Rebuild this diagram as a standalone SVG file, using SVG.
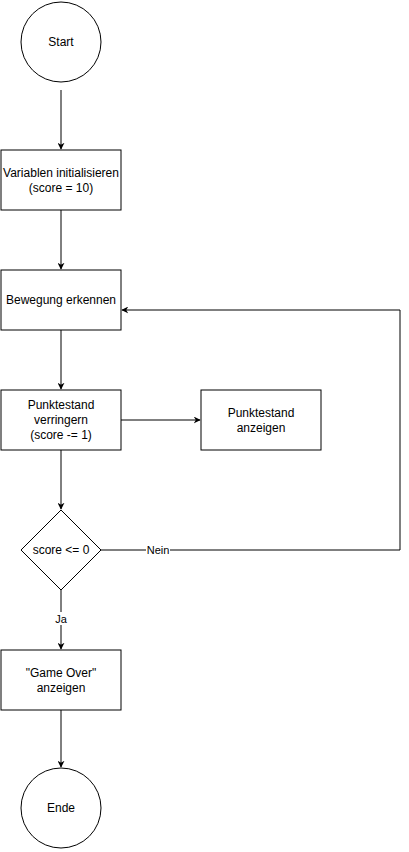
<svg xmlns="http://www.w3.org/2000/svg" width="409" height="852" viewBox="0 0 409 852">
<defs>
<marker id="arr" viewBox="0 0 10 10" refX="9" refY="5" markerWidth="7" markerHeight="7" orient="auto" markerUnits="userSpaceOnUse">
<path d="M0,0 L10,5 L0,10 L3,5 Z" fill="#000"/>
</marker>
</defs>
<style>
.s{fill:#fff;stroke:#000;stroke-width:1}
.t{font-family:"Liberation Sans",Arial,Helvetica,sans-serif;font-size:12px;fill:#000;text-anchor:middle;dominant-baseline:central}
.c{fill:none;stroke:#000;stroke-width:1}
.lbl{font-family:"Liberation Sans",Arial,Helvetica,sans-serif;font-size:11px;fill:#000;text-anchor:middle;dominant-baseline:central}
</style>
<rect width="409" height="852" fill="#fff"/>
<g id="connectors">
<path class="c" d="M61,90 L61,149" marker-end="url(#arr)"/>
<path class="c" d="M61,210 L61,269" marker-end="url(#arr)"/>
<path class="c" d="M61,330 L61,389" marker-end="url(#arr)"/>
<path class="c" d="M121,420 L200,420" marker-end="url(#arr)"/>
<path class="c" d="M61,450 L61,509" marker-end="url(#arr)"/>
<path class="c" d="M101,550 L400,550 L400,310 L122,310" marker-end="url(#arr)"/>
<rect x="146" y="543" width="24" height="13" fill="#fff"/>
<text class="lbl" x="158" y="549.5">Nein</text>
<path class="c" d="M61,590 L61,649" marker-end="url(#arr)"/>
<rect x="54" y="612" width="14" height="13" fill="#fff"/>
<text class="lbl" x="61" y="619">Ja</text>
<path class="c" d="M61,710 L61,767" marker-end="url(#arr)"/>
</g>
<g id="start">
<circle class="s" cx="61" cy="42" r="40"/>
<text class="t" x="61" y="42">Start</text>
</g>
<g id="init">
<rect class="s" x="1" y="150" width="120" height="60"/>
<text class="t" x="61" y="173">Variablen initialisieren</text>
<text class="t" x="61" y="188">(score = 10)</text>
</g>
<g id="bewegung">
<rect class="s" x="1" y="270" width="120" height="60"/>
<text class="t" x="61" y="300">Bewegung erkennen</text>
</g>
<g id="verringern">
<rect class="s" x="1" y="390" width="120" height="60"/>
<text class="t" x="61" y="405">Punktestand</text>
<text class="t" x="61" y="420">verringern</text>
<text class="t" x="61" y="435">(score -= 1)</text>
</g>
<g id="anzeigen">
<rect class="s" x="201" y="390" width="120" height="60"/>
<text class="t" x="261" y="413">Punktestand</text>
<text class="t" x="261" y="428">anzeigen</text>
</g>
<g id="decision">
<path class="s" d="M61,510 L101,550 L61,590 L21,550 Z"/>
<text class="t" x="61" y="550">score &lt;= 0</text>
</g>
<g id="gameover">
<rect class="s" x="1" y="650" width="120" height="60"/>
<text class="t" x="61" y="673">"Game Over"</text>
<text class="t" x="61" y="688">anzeigen</text>
</g>
<g id="ende">
<circle class="s" cx="61" cy="808" r="40"/>
<text class="t" x="61" y="808">Ende</text>
</g>
</svg>
